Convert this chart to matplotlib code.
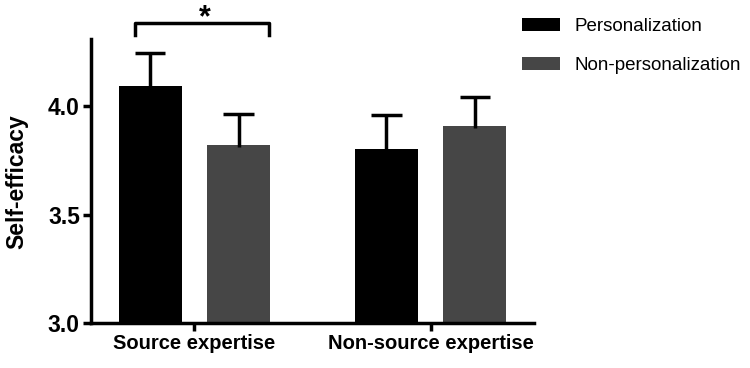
import numpy as np
import matplotlib
matplotlib.use("Agg")
import matplotlib.pyplot as plt
from matplotlib.patches import Patch

plt.rcParams['font.family'] = ['Liberation Sans', 'DejaVu Sans']

groups = ['Source expertise', 'Non-source expertise']
series = ['Personalization', 'Non-personalization']
means_pers = [4.094, 3.805]
err_pers = [0.153, 0.155]
means_non = [3.822, 3.911]
err_non = [0.143, 0.133]
colors = ['#000000', '#464646']

fig = plt.figure(figsize=(7.5, 3.68), dpi=100)
ax = fig.add_axes([0.1213, 0.1215, 0.5907, 0.7725])

x = np.arange(len(groups))
w = 0.267
off = 0.187
cap = 0.064

for xs, m, e, c in [(x - off, means_pers, err_pers, colors[0]),
                    (x + off, means_non, err_non, colors[1])]:
    m = np.array(m)
    e = np.array(e)
    ax.bar(xs, m, w, color=c, zorder=2)
    # upper error bars only
    ax.vlines(xs, m - 0.01, m + e, color='black', lw=2.5, zorder=3)
    ax.hlines(m + e, xs - cap, xs + cap, color='black', lw=2.5, zorder=3)

ax.set_ylim(3.0, 4.31)
ax.set_xlim(-0.438, 1.438)
ax.set_yticks([3.0, 3.5, 4.0])
ax.set_yticklabels(['3.0', '3.5', '4.0'], fontsize=16.5, fontweight='bold')
ax.set_xticks(x)
ax.set_xticklabels(groups, fontsize=14.5, fontweight='bold')
ax.set_ylabel('Self-efficacy', fontsize=16.5, fontweight='bold', labelpad=14)

for s in ['top', 'right']:
    ax.spines[s].set_visible(False)
for s in ['left', 'bottom']:
    ax.spines[s].set_linewidth(2.5)
ax.tick_params(width=2.5, length=6, pad=2)

# significance bracket
bx = [-0.25, -0.25, 0.315, 0.315]
by = [4.328, 4.382, 4.382, 4.328]
ax.plot(bx, by, color='black', lw=2.5, clip_on=False)
ax.text(0.044, 4.405, '*', ha='center', va='center', fontsize=22,
        fontweight='bold', clip_on=False)

handles = [Patch(facecolor=c, edgecolor='none') for c in colors]
fig.legend(handles, series, loc='upper left', bbox_to_anchor=(0.674, 0.998),
           frameon=False, fontsize=13.5, handlelength=2.0, handleheight=0.7,
           handletextpad=0.8, labelspacing=1.2)

fig.savefig('out.png', dpi=100)
